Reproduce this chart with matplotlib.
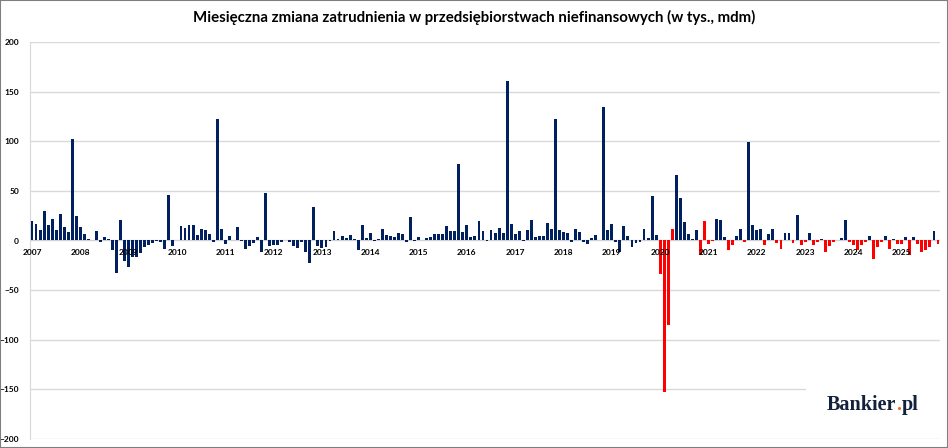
import numpy as np
import matplotlib
matplotlib.use('Agg')
import matplotlib.pyplot as plt
from matplotlib.patches import Rectangle

# monthly change in employment, thousands, m/m (Jan 2007 - Oct 2025)
values = [
    20, 17, 11, 30, 16, 22, 11, 27, 14, 9, 102, 25,        # 2007
    14, 7, 2, 1, 10, -2, 4, 2, -10, -33, 21, -21,          # 2008
    -27, -17, -17, -13, -7, -5, -3, -1, -2, -9, 46, -6,    # 2009
    1, 15, 13, 16, 16, 6, 12, 11, 7, -2, 122, 12,          # 2010
    -4, 5, 0, 14, -1, -9, -6, -3, 4, -12, 48, -6,          # 2011
    -5, -5, -2, 0, -2, -6, -8, -2, -12, -23, 34, -6,       # 2012
    -8, -7, -1, 10, 2, 5, 3, 6, 2, -10, 16, 3,             # 2013
    8, -1, 2, 12, 6, 5, 4, 8, 7, -2, 24, -1,               # 2014
    4, 1, 3, 4, 7, 7, 7, 15, 10, 10, 77, 9,                # 2015
    16, 4, 5, 20, 10, -1, 11, 8, 13, 8, 161, 17,           # 2016
    7, 10, -1, 11, 21, 4, 5, 5, 18, 12, 122, 11,           # 2017
    9, 8, -2, 12, 9, -2, -4, 3, 6, 1, 135, 11,             # 2018
    17, -2, -12, 15, 5, -7, -3, -2, 12, 3, 45, 6,          # 2019
    -34, -153, -85, 12, 66, 43, 19, 7, 2, 11, -15, 20,     # 2020
    -4, -1, 22, 21, 4, -10, -5, 5, 12, -2, 99, 16,         # 2021
    11, 12, -5, 7, 12, -3, -9, 8, 8, -3, 26, -5,           # 2022
    -2, 8, -5, -2, 2, -12, -6, -2, 1, 3, 21, -2,           # 2023
    -5, -10, -5, -2, 5, -19, -7, -2, 5, -9, 2, -4,         # 2024
    -4, 4, -15, 4, -4, -12, -10, -7, 10, -4,               # 2025
]
start_year = 2007
years = list(range(2007, 2026))
# positive months that are also shown in red
red_extra = [159, 167]

navy = '#002060'
red = '#FF0000'

n = len(values)
x = np.arange(n)
colors = []
for i, v in enumerate(values):
    yr = start_year + i // 12
    if (yr >= 2020 and v < 0) or i in red_extra:
        colors.append(red)
    else:
        colors.append(navy)

W, H = 948, 448
fig = plt.figure(figsize=(W / 100, H / 100), dpi=100)
ax = fig.add_axes([30 / W, 1 - 439 / H, 910 / W, 397 / H])

ax.bar(x, values, width=0.72, color=colors, zorder=3)

ax.set_xlim(-0.5, n - 0.5)
ax.set_ylim(-200, 200)
ax.set_yticks(np.arange(-200, 201, 50))
ax.grid(axis='y', color='#D9D9D9', lw=1, zorder=0)
ax.set_xticks([])
ax.tick_params(axis='y', length=0, pad=8, labelsize=6)
for lab in ax.get_yticklabels():
    lab.set_fontweight('bold')
    lab.set_fontfamily('Lato')
for s in ['top', 'right', 'bottom']:
    ax.spines[s].set_visible(False)
ax.spines['left'].set_color('#D9D9D9')
ax.axhline(0, color='#D0D0D0', lw=0.6, zorder=2)

# year labels along the zero line
for k, yr in enumerate(years):
    ax.text(k * 12, -12, str(yr), ha='center', va='center', fontsize=6,
            fontweight='bold', family='Lato', zorder=4)

fig.text(0.5, 1 - 17 / H,
         'Miesięczna zmiana zatrudnienia w przedsiębiorstwach niefinansowych (w tys., mdm)',
         ha='center', va='center', fontsize=10.8, fontweight='bold', family='Lato')

# logo box
ax.add_patch(Rectangle((806 / W, 1 - 430 / H), 134 / W, 48 / H, transform=fig.transFigure,
                       facecolor='white', edgecolor='none', zorder=5))
logo_font = dict(fontsize=14.5, fontweight='bold', family='Liberation Serif', zorder=6)
t1 = fig.text(827 / W, 1 - 405 / H, 'Bankier', ha='left', va='center',
              color='#14213D', **logo_font)
fig.canvas.draw()
bb = t1.get_window_extent()
t2 = fig.text(bb.x1 / W, 1 - 405 / H, '.', ha='left', va='center',
              color='#F26522', **logo_font)
fig.canvas.draw()
bb2 = t2.get_window_extent()
fig.text(bb2.x1 / W, 1 - 405 / H, 'pl', ha='left', va='center',
         color='#14213D', **logo_font)

fig.patches.append(Rectangle((0, 0), 1, 1, transform=fig.transFigure, fill=False,
                             edgecolor='#7F7F7F', lw=1.5))

plt.savefig('out.png', dpi=100)
